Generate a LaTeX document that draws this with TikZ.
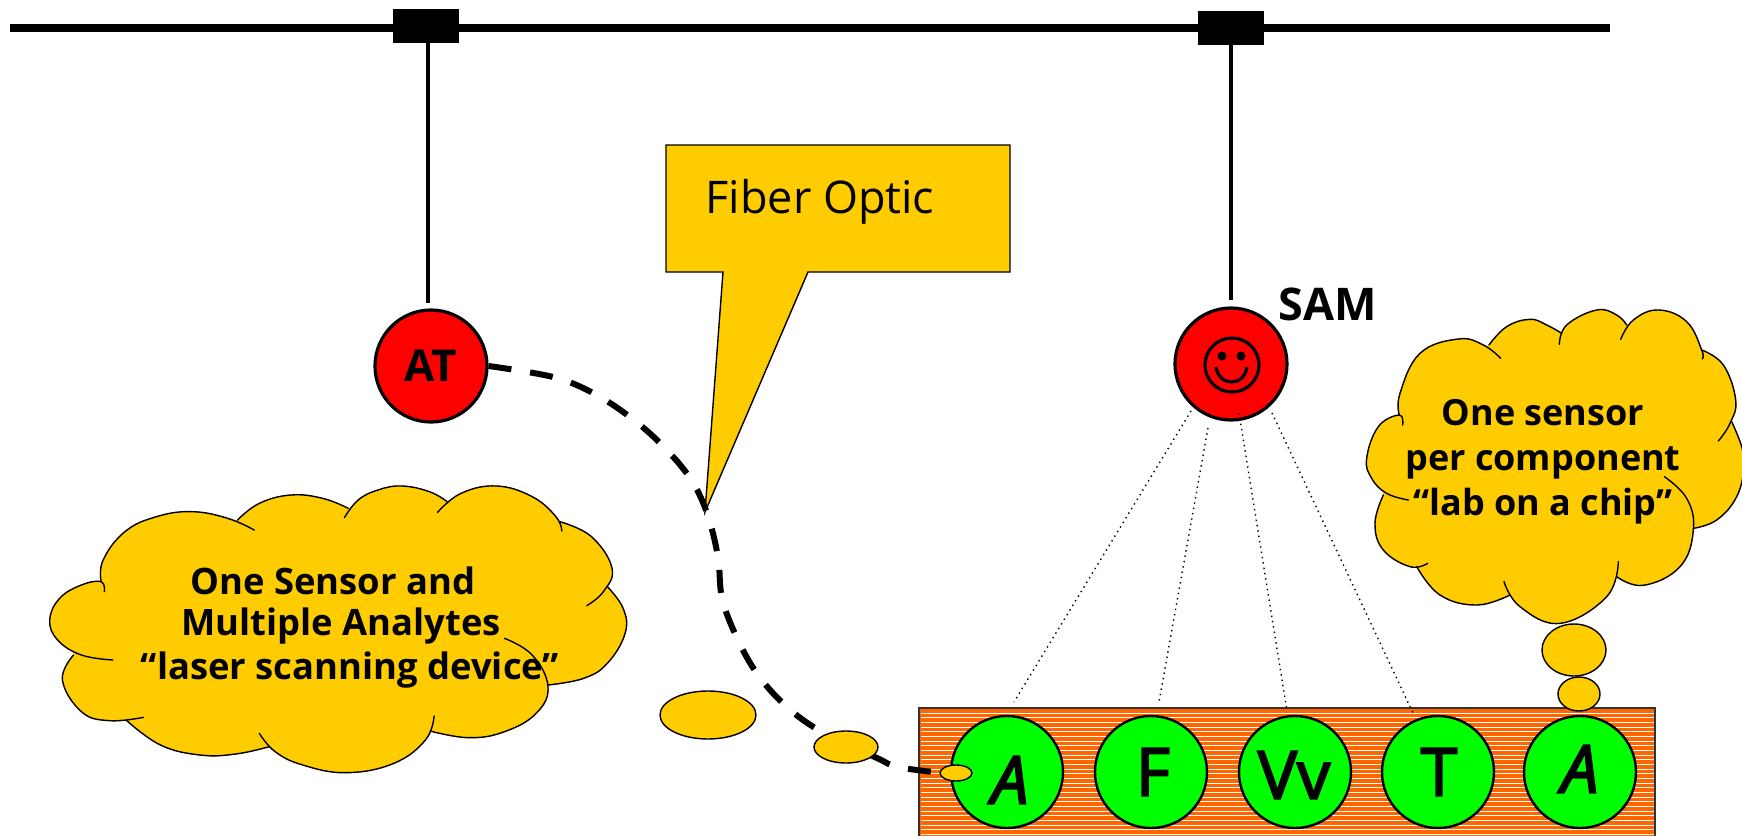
\documentclass[tikz,border=0pt]{standalone}
\usepackage{fontspec}
\setmainfont{Open Sans}
\newfontfamily\wellfont[FakeBold=3]{Open Sans}
\usetikzlibrary{shapes.geometric}
\definecolor{cloudy}{HTML}{FFCC00}
\definecolor{stripe}{HTML}{FF6600}
\definecolor{chipgreen}{HTML}{00FF00}
\definecolor{sensorred}{HTML}{FF0000}
\tikzset{
  blockbox/.style={fill=black,draw=none,minimum width=33pt,minimum height=17pt,inner sep=0pt},
  sensor/.style={circle,draw=black,line width=1.6pt,fill=sensorred,minimum size=56pt,inner sep=0pt,font=\fontsize{22}{22}\selectfont\bfseries},
  well/.style={circle,draw=black,line width=1.2pt,fill=chipgreen,minimum size=56pt,inner sep=0pt},
  welltext/.style={font=\fontsize{33}{33}\selectfont\wellfont,inner sep=0pt},
  wellslant/.style={font=\fontsize{33}{33}\selectfont\wellfont\itshape,inner sep=0pt},
  bubble/.style={ellipse,draw=black,line width=0.7pt,fill=cloudy,inner sep=0pt},
  cloudtext/.style={align=center,inner sep=0pt},
  lefttext/.style={font=\fontsize{18.2}{18.2}\selectfont\bfseries,inner sep=0pt},
  hanger/.style={line width=2pt,draw=black},
  probe/.style={line width=0.7pt,draw=black,dotted},
  arcline/.style={line width=0.7pt,draw=black,line cap=round},
  cloudbody/.style={fill=cloudy,draw=cloudy,line width=0.5pt},
  zoomed/.style={x=0.16667pt,y=-0.16667pt},
  zoomedA/.style={x=0.19771pt,y=-0.16667pt}
}
\newcommand{\cloudApts}{%
  \B{(210,570)(130,555)(70,510)(50,450)(75,385)(130,345)(180,335)(188,365)}%
  \B{(180,335)(185,270)(240,185)(320,140)(410,125)(500,145)(567,180)}%
  \B{(525,150)(580,100)(660,75)(740,85)(805,115)}%
  \B{(795,143)(830,90)(880,60)(940,48)(1010,65)(1055,95)}%
  \B{(1030,128)(1090,70)(1180,48)(1270,80)(1330,140)(1345,183)}%
  \B{(1340,155)(1420,200)(1472,295)(1450,365)(1408,407)}%
  \B{(1460,350)(1500,415)(1505,490)(1460,580)(1400,625)(1310,645)}%
  \B{(1200,505)(1270,555)(1310,650)(1280,730)(1200,785)(1110,803)(1012,783)}%
  \B{(1022,738)(1000,810)(920,880)(800,908)(690,885)(620,845)(580,790)}%
  \B{(605,830)(520,852)(430,855)(330,825)(245,752)}%
  \B{(287,742)(200,752)(130,725)(82,630)(110,555)}%
}
\newcommand{\cloudBpts}{%
  \B{(205,630)(140,610)(95,565)(80,505)(115,410)(178,375)(188,405)}%
  \B{(178,375)(180,310)(240,190)(355,147)(430,165)(482,205)}%
  \B{(447,165)(500,110)(570,88)(620,105)(665,130)}%
  \B{(658,163)(680,105)(770,60)(830,75)(860,105)}%
  \B{(842,148)(880,90)(955,60)(1040,95)(1085,180)(1087,207)}%
  \B{(1085,180)(1150,225)(1187,330)(1170,400)(1135,453)}%
  \B{(1175,395)(1205,470)(1212,530)(1190,620)(1130,690)(1060,715)}%
  \B{(973,560)(1040,625)(1060,720)(1020,830)(910,886)(830,860)}%
  \B{(835,815)(800,920)(660,1000)(540,950)(492,875)}%
  \B{(510,915)(410,945)(300,915)(230,830)}%
  \B{(263,820)(210,830)(130,780)(105,700)(130,615)}%
}
\newcommand{\drawcloud}[2]{%
  \def\B##1{\path[cloudbody] plot[smooth,tension=0.7] coordinates {##1} -- cycle;}%
  #1%
  \path[cloudbody] #2 -- cycle;%
  \def\B##1{\draw[arcline] plot[smooth,tension=0.7] coordinates {##1};}%
  #1%
}
\begin{document}
\begin{tikzpicture}[x=0.5pt,y=-0.5pt]
\useasboundingbox (0,0) rectangle (1742,836);
\clip (0,0) rectangle (1742,836);

% bus
\coordinate (busL) at (10,28);
\coordinate (busR) at (1610,28);
\draw[line width=4pt] (busL) -- (busR);
\node[blockbox] (blockA) at (426,26) {};
\node[blockbox] (blockB) at (1231,28) {};

% sensors
\node[sensor] (AT) at (431,366) {AT};
\node[sensor] (SAM) at (1231,364) {};
\coordinate (ATtop) at (428,303);
\coordinate (SAMtop) at (1231,300);
\draw[hanger] (428,42) -- (ATtop);
\draw[hanger] (blockB.south) -- (SAMtop);
\node[font=\fontsize{22.5}{22.5}\selectfont\bfseries,inner sep=0pt] (samlabel) at (1328,304) {SAM};

% smiley
\draw[line width=1.6pt] (1232,365) circle (27);
\fill (1222,356) circle (4.5);
\fill (1241,356) circle (4.5);
\draw[line width=1.6pt] (1216,367) .. controls (1219,387) and (1244,387) .. (1247,367);

% callout
\draw[fill=cloudy,line width=0.7pt] (666,145) -- (1010,145) -- (1010,272) -- (808,272) -- (705,512) -- (723,272) -- (666,272) -- cycle;
\node[font=\fontsize{22.5}{22.5}\selectfont,inner sep=0pt] (fiber) at (820,202) {Fiber Optic};

% chip
\fill[stripe] (919,708) rectangle (1655,840);
\foreach \yy in {713,717.67,...,838}
  \draw[white,line width=0.5pt] (921,\yy) -- (1654,\yy);
\draw[line width=0.8pt,draw=black!80] (919,840) -- (919,708) -- (1655,708) -- (1655,840);

% wells
\node[well] (w1) at (1007,772) {};
\node[well] (w2) at (1151,772) {};
\node[well] (w3) at (1295,772) {};
\node[well] (w4) at (1438,772) {};
\node[well] (w5) at (1580,772) {};
\node[wellslant] (t1) at (1010,780) {A};
\node[welltext] (t2) at (1153,772) {F};
\node[welltext] (t3) at (1294,775) {Vv};
\node[welltext] (t4) at (1439,772) {T};
\node[wellslant] (t5) at (1580,769) {A};
\coordinate (p1) at (1014,702);
\coordinate (p2) at (1159,702);
\coordinate (p3) at (1287,711);
\coordinate (p4) at (1413,713);
\draw[probe] (1191,411) -- (p1);
\draw[probe] (1208,428) -- (p2);
\draw[probe] (1239,413) -- (p3);
\draw[probe] (1272,413) -- (p4);

% fibre
\coordinate (fibreEnd) at (942,773);
\draw[line width=3pt,dash pattern=on 11.5pt off 9.5pt] plot[smooth,tension=0.6] coordinates {(AT.east)(553,377)(593,393)(630,417)(662,445)(690,478)(707,513)(718,557)(722,598)(737,638)(758,675)(787,707)(822,732)(877,758)(898,767)(fibreEnd)};

% bubbles
\node[bubble,minimum width=48pt,minimum height=24pt] (b1) at (708,715) {};
\node[bubble,minimum width=32pt,minimum height=16pt] (b2) at (846,747) {};
\node[bubble,minimum width=16pt,minimum height=8pt] (b3) at (956,773) {};
\node[bubble,minimum width=32pt,minimum height=26pt] (b4) at (1574,650) {};
\node[bubble,minimum width=21pt,minimum height=17pt] (b5) at (1579,694) {};

% left cloud
\begin{scope}[shift={(30,470)},zoomedA]
\drawcloud{\cloudApts}{(180,335) -- (525,150) -- (805,115) -- (1055,95) -- (1340,155) -- (1460,350) -- (1310,645) -- (1012,783) -- (605,830) -- (245,752) -- (110,555)}
\end{scope}
\node[lefttext] (c1a) at (333,581) {One Sensor and};
\node[lefttext] (c1b) at (341,626) {Multiple Analytes};
\node[lefttext] (c1c) at (350,670) {“laser scanning device”};

% right cloud
\begin{scope}[shift={(1340,290)},zoomed]
\drawcloud{\cloudBpts}{(178,375) -- (447,165) -- (665,130) -- (860,105) -- (1085,180) -- (1175,395) -- (1060,715) -- (830,860) -- (510,915) -- (230,830) -- (130,615)}
\end{scope}
\node[cloudtext,font=\fontsize{18}{22.5}\selectfont\bfseries] (c2) at (1543,462) {One sensor\\per component\\“lab on a chip”};
\end{tikzpicture}
\end{document}
